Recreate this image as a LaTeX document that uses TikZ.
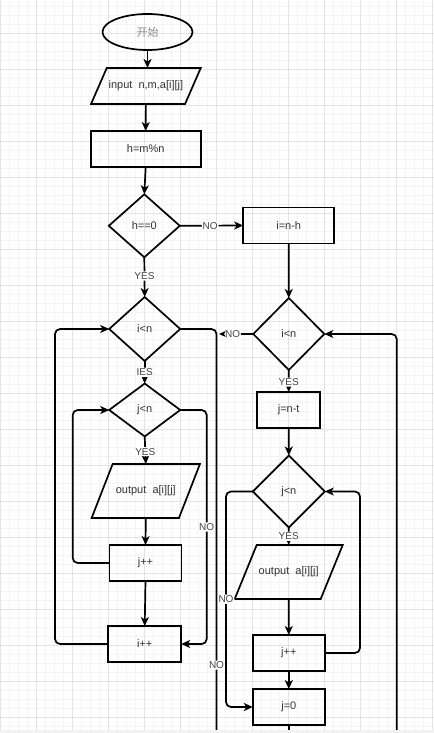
\documentclass[tikz,border=0pt]{standalone}
\usepackage{fontspec}
\setmainfont{Liberation Sans}
\newfontfamily\cjk{Noto Sans CJK SC}
\usetikzlibrary{shapes.geometric,arrows.meta,calc}
\definecolor{txt}{HTML}{333333}
\definecolor{lbltxt}{HTML}{444444}
\definecolor{gridmin}{HTML}{F4F4F4}
\definecolor{gridmaj}{HTML}{E3E3E3}
\definecolor{cjkgray}{HTML}{8C8C8C}
\tikzset{
  nodefont/.style={font=\fontsize{11bp}{12bp}\selectfont, text=txt},
  box/.style={draw, line width=1.7bp, rectangle, inner sep=0pt, outer sep=0pt, minimum height=36bp, nodefont},
  dia/.style={draw, line width=1.7bp, diamond, inner sep=0pt, outer sep=0pt, nodefont},
  paranode/.style={draw=none, rectangle, inner sep=0pt, outer sep=0pt, nodefont},
  paraline/.style={line width=1.7bp, line join=miter},
  conn/.style={line width=1.7bp, rounded corners=5bp},
  arr/.style={conn, -{Stealth[length=9bp,width=8bp,inset=2.5bp]}},
  lbl/.style={fill=white, inner sep=1bp, text=lbltxt, font=\fontsize{10bp}{11bp}\selectfont},
  mingrid/.style={gridmin, line width=0.8bp},
  majgrid/.style={gridmaj, line width=0.8bp}
}
\begin{document}
\begin{tikzpicture}[x=1bp,y=-1bp]
\useasboundingbox (0,0) rectangle (434,733);
\fill[white] (0,0) rectangle (434,733);
% grid
\foreach \x in {9,18,...,432} \draw[mingrid] (\x,0) -- (\x,733);
\foreach \y in {6,15,...,730} \draw[mingrid] (0,\y) -- (434,\y);
\foreach \x in {0,36,...,432} \draw[majgrid] (\x,0) -- (\x,733);
\foreach \y in {33,69,...,730} \draw[majgrid] (0,\y) -- (434,\y);

% nodes
\node[draw, ellipse, line width=1.7bp, inner sep=0pt, outer sep=0pt, minimum width=90bp, minimum height=36bp,
      font=\cjk\fontsize{11bp}{12bp}\selectfont, text=cjkgray] (start) at (147.5,32) {开始};

\node[paranode, minimum width=109.7bp, minimum height=36bp] (in) at (145.9,86) {input\ \ n,m,a[i][j]};
\draw[paraline] ([xshift=15.7bp]in.north west) -- (in.north east) -- ([xshift=-15.7bp]in.south east) -- (in.south west) -- cycle;

\node[box, minimum width=110bp] (hm) at (145.7,149) {h=m\%n};
\node[dia, minimum width=71bp, minimum height=63bp] (d0) at (144.3,225.8) {h==0};
\node[box, minimum width=91bp] (inh) at (288.7,225.5) {i=n-h};

\node[dia, minimum width=71bp, minimum height=64bp] (d1) at (144.7,329) {i<n};
\node[dia, minimum width=71bp, minimum height=72bp] (d1r) at (288.8,334) {i<n};

\node[dia, minimum width=71bp, minimum height=53bp] (d2) at (144.7,410) {j<n};
\node[box, minimum width=63bp] (jnt) at (288.7,410) {j=n-t};

\node[dia, minimum width=72bp, minimum height=72bp] (d2r) at (288.8,491.5) {j<n};

\node[paranode, minimum width=108.3bp, minimum height=54bp] (out1) at (145.8,491) {output\ \ a[i][j]};
\draw[paraline] ([xshift=21bp]out1.north west) -- (out1.north east) -- ([xshift=-21bp]out1.south east) -- (out1.south west) -- cycle;

\node[paranode, minimum width=108bp, minimum height=54bp] (out2) at (288.7,572) {output\ \ a[i][j]};
\draw[paraline] ([xshift=22bp]out2.north west) -- (out2.north east) -- ([xshift=-22bp]out2.south east) -- (out2.south west) -- cycle;

\node[box, minimum width=72bp] (jpp1) at (145.5,563) {j++};
\node[box, minimum width=73bp] (ipp) at (144.7,644) {i++};
\node[box, minimum width=72bp] (jpp2) at (288.8,653) {j++};
\node[box, minimum width=72bp] (j0) at (288.8,707) {j=0};

\coordinate (bot1) at (216.5,731);
\coordinate (bot2) at (396.7,731);
\coordinate (bot3) at (288.8,731);
\coordinate (noend) at (219,334);

% connectors
\draw[arr] (start.south) -- (start.south |- in.north);
\draw[arr] (in.south) -- (hm.north);
\draw[arr] (hm.south) -- (d0.north);
\draw[arr] (d0.east) -- node[lbl, pos=0.48]{NO} (inh.west);
\draw[arr] (d0.south) -- node[lbl, pos=0.47]{YES} (d1.north);
\draw[arr] (inh.south) -- (d1r.north);
\draw[arr] (d1.south) -- node[lbl, pos=0.5]{IES} (d2.north);
\draw[arr] (d1r.south) -- node[lbl, pos=0.55]{YES} (jnt.north);
\draw[arr] (jnt.south) -- (d2r.north);
\draw[arr] (d2.south) -- node[lbl, pos=0.55]{YES} (out1.north);
\draw[arr] (d2r.south) -- node[lbl, pos=0.5]{YES} (out2.north);
\draw[arr] (out1.south) -- (jpp1.north);
\draw[arr] (out2.south) -- (jpp2.north);
\draw[arr] (jpp1.south) -- (ipp.north);
\draw[arr] (jpp2.south) -- (j0.north);

% loops
\draw[arr] (d2.east) -- ++(26.5,0) |- node[lbl, pos=0.25]{NO} (ipp.east);
\draw[arr] (jpp1.west) -- ++(-36.8,0) |- (d2.west);
\draw[arr] (ipp.west) -- ++(-53.2,0) |- (d1.west);
\draw[conn] (d1.east) -| node[lbl, pos=0.918]{NO} (bot1);
\draw[arr] (d1r.west) -- node[lbl, pos=0.6]{NO} (noend);
\draw[arr] (bot2) |- (d1r.east);
\draw[arr] (jpp2.east) -- ++(35.2,0) |- (d2r.east);
\draw[arr] (d2r.west) -- ++(-26.8,0) |- node[lbl, pos=0.25]{NO} (j0.west);
\draw[conn] (j0.south) -- (bot3);

\fill[gray!10] (0,730) rectangle (434,733);
\end{tikzpicture}
\end{document}
